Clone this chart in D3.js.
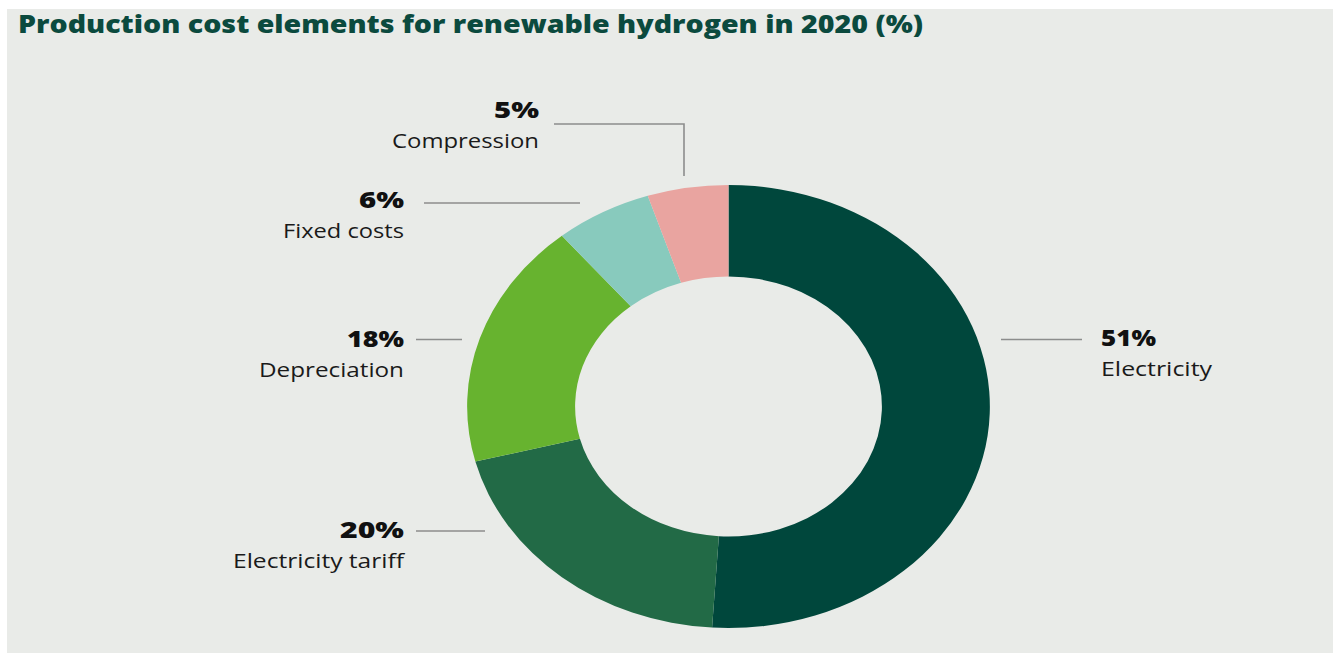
<!DOCTYPE html>
<html>
<head>
<meta charset="utf-8">
<script src="https://cdn.jsdelivr.net/npm/d3@7"></script>
<style>
  html, body { margin: 0; padding: 0; background: #ffffff; }
  svg { display: block; }
  text { font-family: "Open Sans", "Noto Sans", sans-serif; }
</style>
</head>
<body>
<svg id="chart" width="1336" height="653"></svg>
<script>
// Cost shares, clockwise from 12 o'clock
const categories = ["Electricity", "Electricity tariff", "Depreciation", "Fixed costs", "Compression"];
const shares = [51, 20, 18, 6, 5];
const colors = ["#00473c", "#226a46", "#67b32f", "#88cabd", "#e9a4a0"];
const titleText = "Production cost elements for renewable hydrogen in 2020 (%)";

// Label placement: text anchor point and the leader line polyline for each slice
const labelLayout = [
  { x: 1101, y: 346, anchor: "start", pctW: 55, nameW: 111, leader: [[1001, 339.5], [1082, 339.5]] },
  { x: 404, y: 538, anchor: "end", pctW: 64, nameW: 171, leader: [[416, 531], [485, 531]] },
  { x: 404, y: 347, anchor: "end", pctW: 57, nameW: 145, leader: [[416, 339.5], [462, 339.5]] },
  { x: 404, y: 208, anchor: "end", pctW: 45, nameW: 121, leader: [[424, 203], [580, 203]] },
  { x: 539, y: 118, anchor: "end", pctW: 45, nameW: 147, leader: [[554, 124], [684, 124], [684, 176]] }
];

const svg = d3.select("#chart");
const W = 1336, H = 653;

// Panel background
svg.append("rect")
  .attr("x", 7).attr("y", 9)
  .attr("width", W - 7 - 3).attr("height", H - 9)
  .attr("fill", "#e9ebe8");

// Title
svg.append("text")
  .attr("x", 18).attr("y", 32.5)
  .attr("font-size", 24)
  .attr("font-weight", 800)
  .attr("fill", "#0b4a3e")
  .attr("textLength", 905)
  .attr("lengthAdjust", "spacingAndGlyphs")
  .text(titleText);

// Donut (drawn as a slightly wide ellipse)
const cx = 728.5, cy = 406.5;
const rOuter = 221.5, rInner = 130, stretchX = 1.18;

const pie = d3.pie().sort(null).value(d => d)(shares);
const arc = d3.arc().innerRadius(rInner).outerRadius(rOuter);

const donut = svg.append("g")
  .attr("transform", `translate(${cx},${cy}) scale(${stretchX},1)`);

donut.selectAll("path")
  .data(pie)
  .join("path")
  .attr("d", arc)
  .attr("fill", (d, i) => colors[i]);

// Leader lines
const line = d3.line();
svg.append("g")
  .selectAll("path")
  .data(labelLayout)
  .join("path")
  .attr("d", d => line(d.leader))
  .attr("fill", "none")
  .attr("stroke", "#8c8d8c")
  .attr("stroke-width", 1.6);

// Labels: percentage on top, category name below
const labels = svg.append("g")
  .selectAll("g")
  .data(labelLayout)
  .join("g");

labels.append("text")
  .attr("x", d => d.x).attr("y", d => d.y)
  .attr("text-anchor", d => d.anchor)
  .attr("font-size", 22)
  .attr("font-weight", 800)
  .attr("fill", "#111111")
  .attr("textLength", d => d.pctW)
  .attr("lengthAdjust", "spacingAndGlyphs")
  .text((d, i) => shares[i] + "%");

labels.append("text")
  .attr("x", d => d.x).attr("y", d => d.y + 30)
  .attr("text-anchor", d => d.anchor)
  .attr("font-size", 20)
  .attr("font-weight", 500)
  .attr("fill", "#1a1a1a")
  .attr("textLength", d => d.nameW)
  .attr("lengthAdjust", "spacingAndGlyphs")
  .text((d, i) => categories[i]);
</script>
</body>
</html>
